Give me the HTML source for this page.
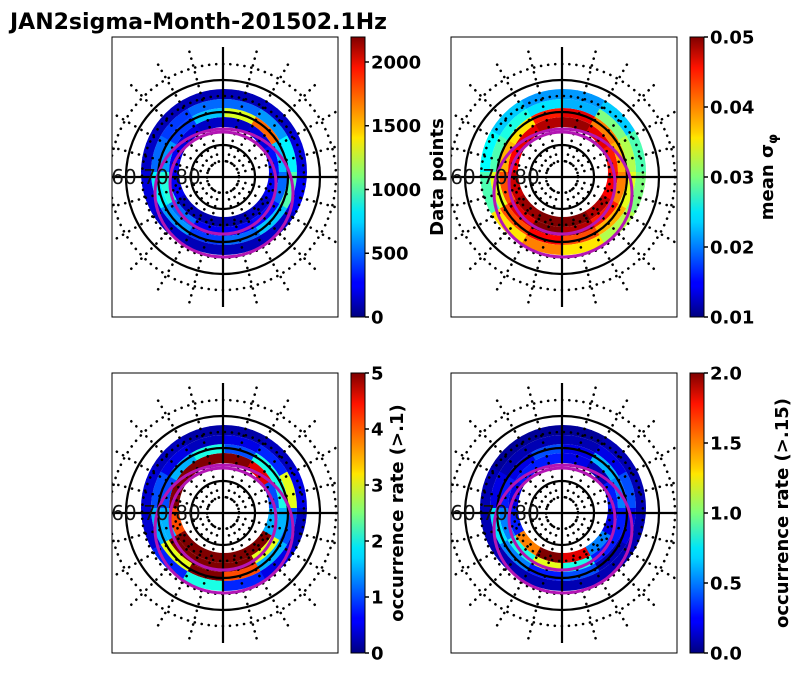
<!DOCTYPE html>
<html><head><meta charset="utf-8">
<style>
html,body{margin:0;padding:0;background:#fff;}
svg{display:block;font-family:"DejaVu Sans","Liberation Sans",sans-serif;}
</style></head>
<body>
<svg id="fig" width="792" height="674" viewBox="0 0 792 674" xmlns="http://www.w3.org/2000/svg">
<defs>
<linearGradient id="jet" x1="0" y1="1" x2="0" y2="0">
<stop offset="0" stop-color="#000080"/><stop offset="0.11" stop-color="#0000ff"/>
<stop offset="0.125" stop-color="#0000ff"/><stop offset="0.34" stop-color="#00d4ff"/>
<stop offset="0.375" stop-color="#00e5f8"/><stop offset="0.5" stop-color="#7dff7a"/>
<stop offset="0.64" stop-color="#ffe600"/><stop offset="0.66" stop-color="#ffd000"/>
<stop offset="0.89" stop-color="#ff1300"/><stop offset="1" stop-color="#800000"/>
</linearGradient>
</defs>
<text x="10" y="29" font-size="22" font-weight="bold">JAN2sigma-Month-201502.1Hz</text>
</svg>
<script>
// Sector values: 12 sectors (30° each, clockwise from top), 4 radial bins inner->outer
const p1Inner=[150,200,300,250,150,100,100,120,250,250,200,150];
const p1Bin2=[1300,1700,700,500,300,250,250,500,900,600,400,700];
const p1Bin3=[500,600,800,1000,700,500,400,600,800,500,400,500];
const p1Outer=[120,150,200,250,150,120,120,150,200,150,120,120];
const p2Inner=[0.049,0.046,0.044,0.045,0.048,0.05,0.05,0.049,0.047,0.045,0.046,0.048];
const p2Bin2=[0.046,0.04,0.038,0.04,0.044,0.048,0.05,0.046,0.042,0.038,0.036,0.044];
const p2Bin3=[0.022,0.03,0.032,0.034,0.038,0.042,0.045,0.042,0.034,0.028,0.026,0.024];
const p2Outer=[0.021,0.023,0.028,0.03,0.032,0.036,0.04,0.036,0.028,0.025,0.023,0.021];
const p3Inner=[5,4.5,1,1.5,5,5,5,5,4,5,5,5];
const p3Bin2=[1,2,2,1.5,3,5,5,5,1.5,1,1.5,2];
const p3Bin3=[0.5,0.8,3,1,1.5,4,5,3,1.5,1,0.5,0.3];
const p3Outer=[0.2,0.3,0.5,0.3,0.5,0.8,2,0.8,0.4,0.4,0.3,0.2];
const p4Inner=[0.2,0.1,0.3,0.2,0.5,1.8,2,1.5,0.3,0.2,0.3,0.3];
const p4Bin2=[0.2,0.6,0.5,0.3,0.3,0.8,1.2,0.8,0.5,0.3,0.2,0.4];
const p4Bin3=[0.1,0.2,0.4,0.2,0.1,0.4,0.3,0.5,0.7,0.2,0.1,0.1];
const p4Outer=[0.05,0.1,0.1,0.1,0.1,0.1,0.1,0.1,0.1,0.1,0.05,0.05];
const cb1Ticks=["0","500","1000","1500","2000"];
const cb2Ticks=["0.01","0.02","0.03","0.04","0.05"];
const cb3Ticks=["0","1","2","3","4","5"];
const cb4Ticks=["0.0","0.5","1.0","1.5","2.0"];

const NS="http://www.w3.org/2000/svg";
const svg=document.getElementById('fig');
function mk(t,a,p){const e=document.createElementNS(NS,t);for(const k in a)e.setAttribute(k,a[k]);(p||svg).appendChild(e);return e;}
function jet(v){v=Math.max(0,Math.min(1,v));
 const r=Math.max(0,Math.min(1,1.5-Math.abs(4*v-3))),g=Math.max(0,Math.min(1,1.5-Math.abs(4*v-2))),b=Math.max(0,Math.min(1,1.5-Math.abs(4*v-1)));
 return `rgb(${Math.round(r*255)},${Math.round(g*255)},${Math.round(b*255)})`;}

const panels=[
 {x:112,y:37,cb:351,bins:[p1Inner,p1Bin2,p1Bin3,p1Outer],vmin:0,vmax:2196,ticks:cb1Ticks,label:"Data points",lx:438,name:"data-points"},
 {x:451,y:37,cb:690,bins:[p2Inner,p2Bin2,p2Bin3,p2Outer],vmin:0.01,vmax:0.05,ticks:cb2Ticks,label:"mean σ",sub:"φ",lx:768,name:"mean-sigma-phi"},
 {x:112,y:373,cb:351,bins:[p3Inner,p3Bin2,p3Bin3,p3Outer],vmin:0,vmax:5,ticks:cb3Ticks,label:"occurrence rate (>.1)",lx:398,name:"occurrence-rate-01"},
 {x:451,y:373,cb:690,bins:[p4Inner,p4Bin2,p4Bin3,p4Outer],vmin:0,vmax:2,ticks:cb4Ticks,label:"occurrence rate (>.15)",lx:783,name:"occurrence-rate-015"}
];
const radii=[45,55,64,73,83];
const dotted={fill:'none',stroke:'#000','stroke-width':2.6,'stroke-dasharray':'0.1 7','stroke-linecap':'round'};
panels.forEach((p,pi)=>{
 const W=226,H=280,cx=p.x+111,cy=p.y+140;
 const g=mk('g',{});
 
 
 const cid='clip'+pi;
 const cp=mk('clipPath',{id:cid},g);mk('rect',{x:p.x,y:p.y,width:W,height:H},cp);
 const inner=mk('g',{'clip-path':`url(#${cid})`},g);
 const ccx=cx+1,ccy=cy-5;
 p.bins.forEach((arr,bi)=>{
  arr.forEach((val,si)=>{
   const frac=(val-p.vmin)/(p.vmax-p.vmin);
   for(let sub=0;sub<3;sub++){
    const a0=(si*30+sub*10-90)*Math.PI/180,a1=a0+10.5*Math.PI/180;
    const r0=radii[bi],r1=radii[bi+1];
    const d=`M${ccx+r0*Math.cos(a0)},${ccy+r0*Math.sin(a0)}L${ccx+r1*Math.cos(a0)},${ccy+r1*Math.sin(a0)}A${r1},${r1} 0 0 1 ${ccx+r1*Math.cos(a1)},${ccy+r1*Math.sin(a1)}L${ccx+r0*Math.cos(a1)},${ccy+r0*Math.sin(a1)}A${r0},${r0} 0 0 0 ${ccx+r0*Math.cos(a0)},${ccy+r0*Math.sin(a0)}Z`;
    const c=mk('path',{d:d,fill:jet(frac)},inner);
    
    
   }
  });
 });
 [16,48,81,113].forEach(r=>mk('circle',Object.assign({cx:cx,cy:cy,r:r},dotted),inner));
 for(let a=0;a<360;a+=15){if(a%90===0)continue;const t=a*Math.PI/180;
  mk('line',Object.assign({x1:cx+16*Math.cos(t),y1:cy+16*Math.sin(t),x2:cx+135*Math.cos(t),y2:cy+135*Math.sin(t)},dotted),inner);}
 [32,65,97].forEach(r=>mk('circle',{cx:cx,cy:cy,r:r,fill:'none',stroke:'#000','stroke-width':2.2},inner));
 mk('line',{x1:cx,y1:cy-130,x2:cx,y2:cy+130,stroke:'#000','stroke-width':2.2},inner);
 mk('line',{x1:p.x,y1:cy,x2:p.x+W,y2:cy,stroke:'#000','stroke-width':2.2},inner);
 mk('ellipse',{cx:cx+1,cy:cy+16,rx:69,ry:64,fill:'none',stroke:'#b415b4','stroke-width':3},inner);
 mk('ellipse',{cx:cx,cy:cy+6,rx:53,ry:51,fill:'none',stroke:'#b415b4','stroke-width':3},inner);
 [["60",99],["70",67],["80",35]].forEach(l=>{const t=mk('text',{x:cx-l[1],y:cy+7,'font-size':20,'text-anchor':'middle',fill:'#111'},inner);t.textContent=l[0];
  });
 mk('rect',{x:p.x,y:p.y,width:W,height:H,fill:'none',stroke:'#000','stroke-width':1},g);
 const cb=mk('g',{});
 
 
 mk('rect',{x:p.cb,y:p.y,width:14,height:H,fill:'url(#jet)',stroke:'#000','stroke-width':1},cb);
 p.ticks.forEach(tk=>{const v=parseFloat(tk);const y=p.y+H-(v-p.vmin)/(p.vmax-p.vmin)*H;
  mk('line',{x1:p.cb+14,y1:y,x2:p.cb+18,y2:y,stroke:'#000','stroke-width':1.5},cb);
  const t=mk('text',{x:p.cb+20,y:y+6.5,'font-size':18,'font-weight':'bold'},cb);t.textContent=tk;
  });
 const lt=mk('text',{x:p.lx,y:p.y+140,'font-size':18,'font-weight':'bold','text-anchor':'middle',transform:`rotate(-90 ${p.lx} ${p.y+140})`,'dominant-baseline':'middle'},cb);
 lt.textContent=p.label;
 if(p.sub){const ts=mk('tspan',{'font-size':13,dy:5},lt);ts.textContent=p.sub;}
 
});
</script>
</body></html>
